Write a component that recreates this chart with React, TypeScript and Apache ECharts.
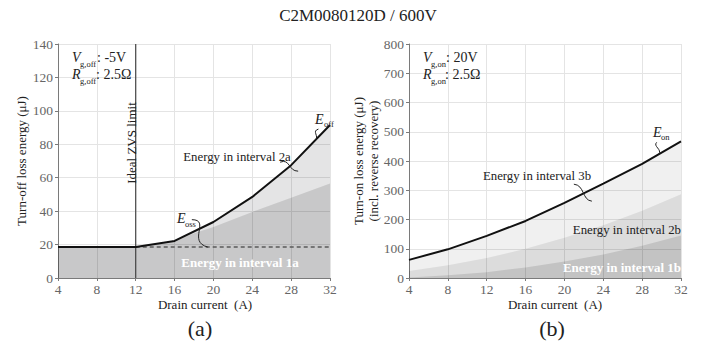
import React, { useEffect, useRef } from "react";
import * as echarts from "echarts";

// Drain current grid (A) shared by both panels
const drainCurrent = [4, 8, 12, 16, 20, 24, 28, 32];

// (a) turn-off loss energy (µJ)
const eOff = [18.5, 18.5, 18.5, 22.2, 33.5, 48.5, 67.5, 91.5];
const eossCurrent = [4, 12, 16, 18, 20, 24, 28, 32];
const eossEnergy = [18.5, 18.5, 22.2, 26.8, 30.5, 39.5, 48, 56.5];
const interval1aLevel = 18.5;
const zvsLimitCurrent = 12;

// (b) turn-on loss energy incl. reverse recovery (µJ)
const eOn = [62, 98, 144, 195, 257, 323, 390, 467];
const eInterval1b2b = [24, 44, 68, 100, 138, 180, 230, 286];
const eInterval1b = [2, 9, 20, 36, 56, 80, 110, 145];

const offTicks = { min: 0, max: 140, interval: 20 };
const onTicks = { min: 0, max: 800, interval: 100 };

const FONT = "Liberation Serif";
const AXIS_GREY = "#7a7a7a";

const zip = (xs: number[], ys: number[]) => xs.map((x, i) => [x, ys[i]]);

const xAxisCfg = (gridIndex: number) => ({
  type: "value",
  gridIndex,
  min: 4,
  max: 32,
  interval: 4,
  axisLine: { show: true, onZero: false, lineStyle: { color: AXIS_GREY, width: 1 } },
  axisTick: { show: true, length: 3, lineStyle: { color: AXIS_GREY } },
  axisLabel: { color: "#666", fontFamily: FONT, fontSize: 13.5, margin: 4 },
  splitLine: { show: true, lineStyle: { color: "#e4e4e4", width: 1 } },
});

const yAxisCfg = (gridIndex: number, t: { min: number; max: number; interval: number }) => ({
  type: "value",
  gridIndex,
  min: t.min,
  max: t.max,
  interval: t.interval,
  axisLine: { show: true, onZero: false, lineStyle: { color: AXIS_GREY, width: 1 } },
  axisTick: { show: true, length: 3, lineStyle: { color: AXIS_GREY } },
  axisLabel: { color: "#666", fontFamily: FONT, fontSize: 13.5, margin: 5 },
  splitLine: { show: true, lineStyle: { color: "#e4e4e4", width: 1 } },
});

const area = (gridIndex: number, data: number[][], fill: string, z: number) => ({
  type: "line",
  xAxisIndex: gridIndex,
  yAxisIndex: gridIndex,
  data,
  symbol: "none",
  silent: true,
  lineStyle: { width: 0 },
  areaStyle: { color: fill, opacity: 1 },
  z,
});

const option = {
  animation: false,
  backgroundColor: "#fff",
  grid: [
    { left: 58, top: 44, width: 272, height: 234 },
    { left: 409, top: 44, width: 272, height: 234 },
  ],
  xAxis: [xAxisCfg(0), xAxisCfg(1)],
  yAxis: [yAxisCfg(0, offTicks), yAxisCfg(1, onTicks)],
  series: [
    // (a) shaded energy regions
    area(0, zip(drainCurrent, eOff), "rgba(0,0,10,0.105)", 1),
    area(0, zip(eossCurrent, eossEnergy), "rgba(0,0,0,0.12)", 2),
    {
      type: "line",
      xAxisIndex: 0,
      yAxisIndex: 0,
      data: [
        [zvsLimitCurrent, interval1aLevel],
        [32, interval1aLevel],
      ],
      symbol: "none",
      lineStyle: { color: "#5a5a5a", width: 1.5, type: [4, 3] },
      z: 3,
    },
    {
      type: "line",
      xAxisIndex: 0,
      yAxisIndex: 0,
      data: [
        [zvsLimitCurrent, offTicks.min],
        [zvsLimitCurrent, offTicks.max],
      ],
      symbol: "none",
      lineStyle: { color: "#444", width: 1.2 },
      z: 3,
    },
    {
      type: "line",
      xAxisIndex: 0,
      yAxisIndex: 0,
      data: zip(drainCurrent, eOff),
      symbol: "none",
      lineStyle: { color: "#111", width: 2 },
      z: 4,
    },
    // (b) shaded energy regions
    area(1, zip(drainCurrent, eOn), "rgba(0,0,0,0.06)", 1),
    area(1, zip(drainCurrent, eInterval1b2b), "rgba(0,0,0,0.083)", 2),
    area(1, zip(drainCurrent, eInterval1b), "rgba(0,0,0,0.114)", 3),
    {
      type: "line",
      xAxisIndex: 1,
      yAxisIndex: 1,
      data: zip(drainCurrent, eOn),
      symbol: "none",
      lineStyle: { color: "#111", width: 2 },
      z: 4,
    },
  ],
};

type TextOpts = {
  size?: number;
  fill?: string;
  align?: string;
  valign?: string;
  weight?: string;
  italic?: boolean;
  rotation?: number;
};

const txt = (x: number, y: number, s: string, o: TextOpts = {}) => ({
  type: "text",
  x,
  y,
  rotation: o.rotation ?? 0,
  z: 100,
  silent: true,
  style: {
    text: s,
    fontFamily: FONT,
    fontSize: o.size ?? 13,
    fontWeight: o.weight ?? "normal",
    fontStyle: o.italic ? "italic" : "normal",
    fill: o.fill ?? "#222",
    align: o.align ?? "center",
    verticalAlign: o.valign ?? "middle",
    textAlign: o.align ?? "center",
    textVerticalAlign: o.valign ?? "middle",
  },
});

// Small S-shaped leader joining a label to the curve it names
const squiggle = (
  start: number[],
  cp1: number[],
  cp2: number[],
  end: number[]
) => ({
  type: "bezierCurve",
  z: 100,
  silent: true,
  shape: {
    x1: start[0],
    y1: start[1],
    cpx1: cp1[0],
    cpy1: cp1[1],
    cpx2: cp2[0],
    cpy2: cp2[1],
    x2: end[0],
    y2: end[1],
  },
  style: { stroke: "#222", fill: null, lineWidth: 1 },
});

const interp = (xs: number[], ys: number[], x: number) => {
  for (let i = 0; i < xs.length - 1; i++) {
    if (x >= xs[i] && x <= xs[i + 1]) {
      const t = (x - xs[i]) / (xs[i + 1] - xs[i]);
      return ys[i] + t * (ys[i + 1] - ys[i]);
    }
  }
  return ys[ys.length - 1];
};

function buildGraphics(chart: echarts.ECharts) {
  const pA = (x: number, y: number) =>
    chart.convertToPixel({ gridIndex: 0 }, [x, y]) as number[];
  const pB = (x: number, y: number) =>
    chart.convertToPixel({ gridIndex: 1 }, [x, y]) as number[];

  const a2a = pA(28, interp(drainCurrent, eOff, 28));
  const aOff = pA(30.5, interp(drainCurrent, eOff, 30.5));
  const aOss = pA(18.5, interp(eossCurrent, eossEnergy, 18.5));
  const a3b = pB(22, interp(drainCurrent, eOn, 22));
  const aOn = pB(29.7, interp(drainCurrent, eOn, 29.7));
  const dashY = pA(20, interval1aLevel)[1];

  const els: any[] = [
    // title and panel captions
    txt(358, 15, "C2M0080120D / 600V", { size: 17 }),
    txt(200, 328, "(a)", { size: 22 }),
    txt(552, 328, "(b)", { size: 22 }),
    txt(205, 304, "Drain current  (A)", { size: 13 }),
    txt(555, 304, "Drain current  (A)", { size: 13 }),
    txt(21, 161, "Turn-off loss energy (\u03bcJ)", { size: 13, rotation: Math.PI / 2 }),
    txt(358, 161, "Turn-on loss energy (\u03bcJ)", { size: 13, rotation: Math.PI / 2 }),
    txt(373, 161, "(incl. reverse recovery)", { size: 13, rotation: Math.PI / 2 }),

    // (a) gate conditions
    txt(72, 57, "V", { italic: true, align: "left", size: 14 }),
    txt(80, 64, "g,off", { size: 8.5, align: "left" }),
    txt(97, 57, ": -5V", { align: "left", size: 14 }),
    txt(72, 74, "R", { italic: true, align: "left", size: 14 }),
    txt(80, 81, "g,off", { size: 8.5, align: "left" }),
    txt(96, 74, ": 2.5\u03a9", { align: "left", size: 14 }),

    // (b) gate conditions
    txt(423, 57, "V", { italic: true, align: "left", size: 14 }),
    txt(431, 64, "g,on", { size: 8.5, align: "left" }),
    txt(446, 57, ": 20V", { align: "left", size: 14 }),
    txt(423, 74, "R", { italic: true, align: "left", size: 14 }),
    txt(431, 81, "g,on", { size: 8.5, align: "left" }),
    txt(445, 74, ": 2.5\u03a9", { align: "left", size: 14 }),

    // (a) annotations
    txt(131, 143, "Ideal ZVS limit", { size: 13, rotation: Math.PI / 2 }),
    txt(237, 157, "Energy in interval 2a", { size: 12.8 }),
    txt(240, 262, "Energy in interval 1a", { size: 13, weight: "bold", fill: "#fff" }),
    txt(315, 119, "E", { italic: true, align: "left", size: 14 }),
    txt(324, 124, "off", { size: 8.5, align: "left" }),
    txt(177, 218, "E", { italic: true, align: "left", size: 14 }),
    txt(185, 224, "oss", { size: 8.5, align: "left" }),
    squiggle(
      [a2a[0] - 11, a2a[1] - 3],
      [a2a[0] - 1, a2a[1] - 7],
      [a2a[0] - 3, a2a[1] + 6],
      [a2a[0] + 7, a2a[1] + 6]
    ),
    squiggle(
      [aOff[0] + 3, aOff[1] - 11],
      [aOff[0] - 4, aOff[1] - 9],
      [aOff[0] + 4, aOff[1] - 4],
      [aOff[0], aOff[1]]
    ),
    squiggle(
      [aOss[0] - 7, aOss[1] - 12],
      [aOss[0] + 12, aOss[1] - 12],
      [aOss[0] - 12, aOss[1] + 10],
      [aOss[0] + 9, dashY]
    ),

    // (b) annotations
    txt(537, 176, "Energy in interval 3b", { size: 12.8 }),
    txt(681, 230, "Energy in interval 2b", { size: 12.8, align: "right" }),
    txt(681, 267, "Energy in interval 1b", { size: 13, weight: "bold", fill: "#fff", align: "right" }),
    txt(653, 132, "E", { italic: true, align: "left", size: 14 }),
    txt(661, 137, "on", { size: 8.5, align: "left" }),
    squiggle(
      [a3b[0] - 10, a3b[1] - 9],
      [a3b[0] + 1, a3b[1] - 8],
      [a3b[0] - 2, a3b[1] + 7],
      [a3b[0] + 8, a3b[1] + 8]
    ),
    squiggle(
      [aOn[0] - 2, aOn[1] - 12],
      [aOn[0] - 6, aOn[1] - 8],
      [aOn[0] + 4, aOn[1] - 5],
      [aOn[0], aOn[1]]
    ),
  ];
  return els;
}

export default function App() {
  const ref = useRef<HTMLDivElement>(null);
  useEffect(() => {
    if (!ref.current) return;
    const chart = echarts.init(ref.current, null, { renderer: "svg" });
    chart.setOption(option as any);
    chart.setOption({ graphic: { elements: buildGraphics(chart) } } as any);
    return () => chart.dispose();
  }, []);
  return (
    <div
      ref={ref}
      style={{ position: "absolute", left: 0, top: 0, width: 706, height: 341, background: "#fff" }}
    />
  );
}
